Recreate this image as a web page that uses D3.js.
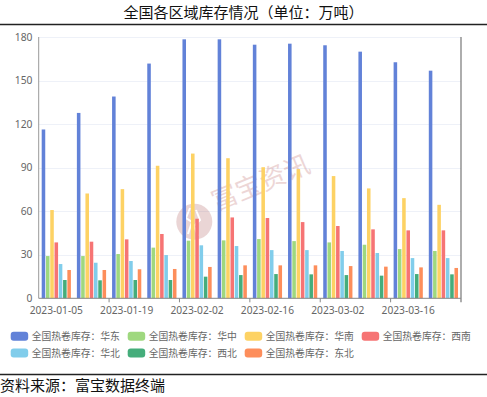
<!DOCTYPE html>
<html><head><meta charset="utf-8">
<script src="https://cdn.jsdelivr.net/npm/d3@7/dist/d3.min.js"></script>
<style>
body{margin:0;background:#fff;}
svg{display:block;}
</style></head>
<body>
<svg id="c" width="487" height="397"></svg>
<script>
const categories = ["2023-01-05","2023-01-12","2023-01-19","2023-01-26","2023-02-02","2023-02-09","2023-02-16","2023-02-23","2023-03-02","2023-03-09","2023-03-16","2023-03-23"];
const seriesNames = ["全国热卷库存：华东","全国热卷库存：华中","全国热卷库存：华南","全国热卷库存：西南","全国热卷库存：华北","全国热卷库存：西北","全国热卷库存：东北"];
const huadong  = [116.3,127.7,139.0,161.7,178.4,178.4,174.7,175.4,174.3,169.9,162.6,156.8];
const huazhong = [29.1,29.1,30.5,34.9,39.7,39.9,40.8,39.4,38.5,36.9,33.9,32.6];
const huanan   = [60.8,72.2,75.2,91.3,99.7,96.5,90.3,89.0,84.2,75.7,69.0,64.4];
const xinan    = [38.5,39.0,40.6,44.3,54.8,55.7,55.3,52.5,49.8,47.5,46.8,46.8];
const huabei   = [23.6,24.5,25.7,29.8,36.5,36.0,33.2,33.2,32.6,31.2,27.7,27.7];
const xibei    = [12.6,12.4,12.6,12.6,14.9,16.0,16.7,16.5,16.0,15.6,16.7,16.5];
const dongbei  = [19.5,19.5,20.0,20.2,21.6,22.7,22.7,22.7,22.2,21.8,21.3,20.9];
const yTicks = [0,30,60,90,120,150,180];
const colors = ["#6282d8","#9fd87f","#fdd264","#f67474","#81cdeb","#45ad7b","#fd8e5b"];

const seriesValues = [huadong,huazhong,huanan,xinan,huabei,xibei,dongbei];

const svg = d3.select("#c");
const W = 487;
const pLeft = 38.7, pRight = 461, pTop = 37, pBottom = 298.3;
const CJK = "'Noto Sans CJK SC','Noto Sans',sans-serif";

// title
svg.append("text").attr("x", W/2).attr("y", 17.5).attr("text-anchor","middle")
  .style("font-family", CJK).style("font-size","15px").attr("fill","#111")
  .text("全国各区域库存情况（单位：万吨）");
svg.append("line").attr("x1",0).attr("x2",W).attr("y1",24.5).attr("y2",24.5)
  .attr("stroke","#222").attr("stroke-width",1.3);

const x0 = d3.scaleBand().domain(categories).range([pLeft,pRight]).paddingInner(0.17).paddingOuter(0.085);
const x0Full = d3.scaleBand().domain(categories).range([pLeft,pRight]).padding(0);
const x1 = d3.scaleBand().domain(d3.range(seriesNames.length)).range([0, x0.bandwidth()]).paddingInner(0.17);
const y = d3.scaleLinear().domain([0,180]).range([pBottom, pTop]);

// gridlines
svg.append("g").selectAll("line").data(yTicks.filter(d=>d>0)).join("line")
  .attr("x1",pLeft).attr("x2",pRight)
  .attr("y1",d=>Math.round(y(d))+0.5).attr("y2",d=>Math.round(y(d))+0.5)
  .attr("stroke","#eef1f8").attr("stroke-width",1);

// y labels
svg.append("g").selectAll("text").data(yTicks).join("text")
  .attr("x",32.5).attr("y",d=>y(d)).attr("dy","0.35em").attr("text-anchor","end")
  .style("font-family","'Noto Sans',sans-serif").style("font-size","10.3px").attr("fill","#666")
  .text(d=>d);

// watermark
const wm = svg.append("g").attr("opacity",0.28);
wm.append("circle").attr("cx",194.3).attr("cy",221.7).attr("r",18).attr("fill","#b56a6a");
wm.append("path").attr("d","M190,208 L186,218 L192,222 L188,234 M196,210 L200,220 L194,226 L198,236")
  .attr("stroke","#fff").attr("stroke-width",2).attr("fill","none");
wm.append("text").attr("transform","translate(216,211) rotate(-22.5)")
  .style("font-family",CJK).style("font-size","26px").attr("fill","#c07070")
  .text("富宝资讯");

// bars
const groups = svg.append("g").selectAll("g").data(categories).join("g")
  .attr("transform", c => `translate(${x0(c)},0)`);
groups.selectAll("rect").data((c,i)=>seriesValues.map((s,k)=>({k, v:s[i]}))).join("rect")
  .attr("x", d=>x1(d.k)).attr("width", x1.bandwidth())
  .attr("y", d=>y(d.v)).attr("height", d=>pBottom - y(d.v))
  .attr("fill", d=>colors[d.k]);

// axes lines
svg.append("line").attr("x1",pLeft).attr("x2",pLeft).attr("y1",pTop).attr("y2",pBottom)
  .attr("stroke","#999").attr("stroke-width",1);
svg.append("line").attr("x1",pRight).attr("x2",pRight).attr("y1",pTop).attr("y2",pBottom+4)
  .attr("stroke","#777").attr("stroke-width",1.2);
svg.append("line").attr("x1",pLeft).attr("x2",pRight).attr("y1",pBottom).attr("y2",pBottom)
  .attr("stroke","#888").attr("stroke-width",1);

// x ticks every other boundary
const tickCats = categories.filter((c,i)=>i%2===0 && i>0);
svg.append("g").selectAll("line").data(tickCats).join("line")
  .attr("x1",c=>x0Full(c)).attr("x2",c=>x0Full(c)).attr("y1",pBottom).attr("y2",pBottom+4)
  .attr("stroke","#888");

// x labels
svg.append("g").selectAll("text").data(categories.filter((c,i)=>i%2===0)).join("text")
  .attr("x",c=>x0Full(c)+x0Full.bandwidth()/2).attr("y",313.5).attr("text-anchor","middle")
  .style("font-family","'Noto Sans',sans-serif").style("font-size","10.2px").attr("fill","#666")
  .text(c=>c);

// legend
const legX = [10.7,127.7,244.7,361.7];
const legY = [336.2,353];
const leg = svg.append("g").selectAll("g").data(seriesNames).join("g")
  .attr("transform",(d,i)=>`translate(${legX[i%4]},${legY[Math.floor(i/4)]})`);
leg.append("rect").attr("x",0).attr("y",-4.5).attr("width",17.5).attr("height",9).attr("rx",3)
  .attr("fill",(d,i)=>colors[i]);
leg.append("text").attr("x",21).attr("y",0).attr("dy","0.36em")
  .style("font-family",CJK).style("font-size","9.8px").attr("fill","#666")
  .text(d=>d);

// footer
svg.append("line").attr("x1",0).attr("x2",W).attr("y1",374.5).attr("y2",374.5)
  .attr("stroke","#222").attr("stroke-width",1.3);
svg.append("text").attr("x",0).attr("y",391)
  .style("font-family",CJK).style("font-size","15px").attr("fill","#111")
  .text("资料来源：富宝数据终端");
</script>
</body></html>
